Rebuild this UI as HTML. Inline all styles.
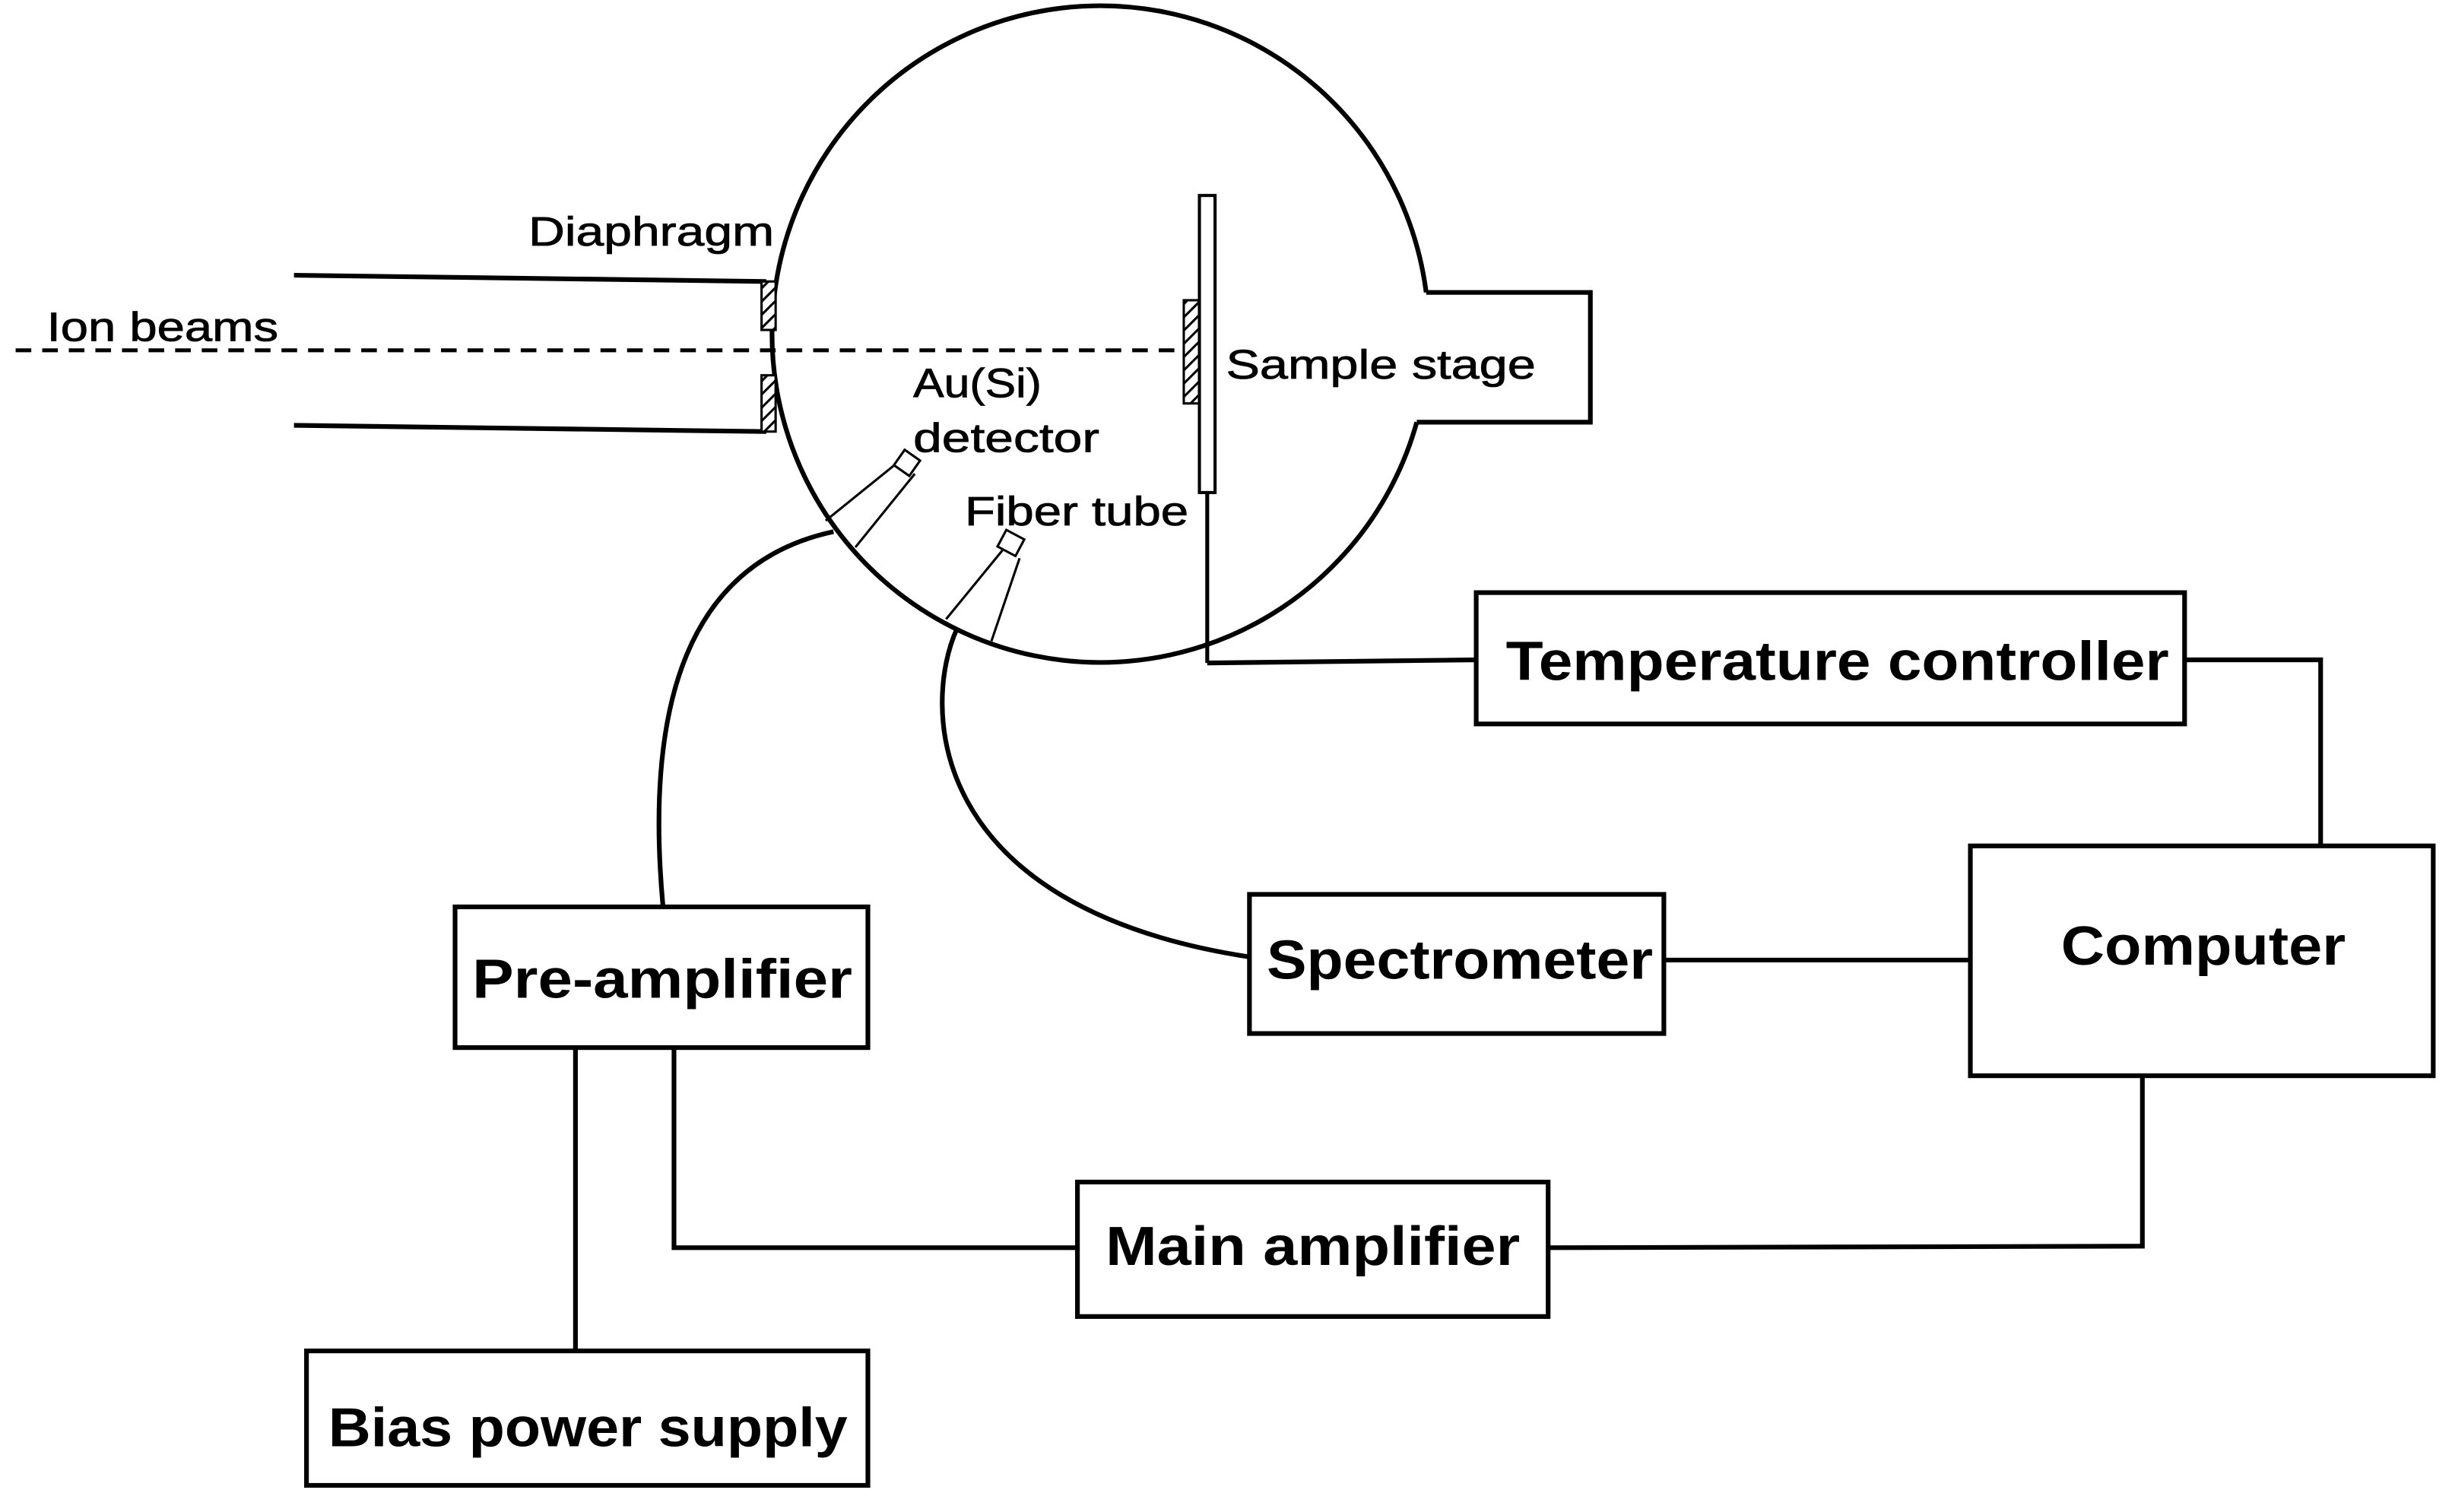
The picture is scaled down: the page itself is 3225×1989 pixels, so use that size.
<!DOCTYPE html>
<html><head><meta charset="utf-8"><style>html,body{margin:0;padding:0;background:#fff}svg{display:block}</style></head>
<body>
<svg width="3225" height="1989" viewBox="0 0 1568 967" xmlns="http://www.w3.org/2000/svg" font-family="Liberation Sans, sans-serif">
<defs>
<pattern id="h" width="6" height="6" patternUnits="userSpaceOnUse" patternTransform="rotate(45)">
<rect width="6" height="6" fill="#fff"/><line x1="0" y1="0" x2="0" y2="6" stroke="#000" stroke-width="3"/></pattern>
</defs>
<g fill="none" stroke="#000" stroke-width="3">
<path d="M 912,187 A 210 210 0 1 0 906,270"/>
<polyline points="912,187 1017,187 1017,270 906,270"/>
<line x1="188" y1="176" x2="490" y2="180"/>
<line x1="188" y1="272" x2="490" y2="276"/>
<line x1="10" y1="224" x2="760" y2="224" stroke-dasharray="10,7" stroke-width="2.5"/>
<line x1="772" y1="315" x2="772" y2="424" stroke-width="2.5"/>
<polyline points="772,424 944,422"/>
<polyline points="1397,422 1484,422 1484,541"/>
<line x1="1064" y1="614" x2="1260" y2="614"/>
<polyline points="431,670 431,798 689,798"/>
<polyline points="990,798 1370,797 1370,688"/>
<line x1="368" y1="670" x2="368" y2="864"/>
<path d="M 533,340 C 440,360 412,450 424,580"/>
<path d="M 612,402 C 590,450 590,580 799,612"/>
<rect x="944" y="379" width="453" height="84"/>
<rect x="1260" y="541" width="296" height="147"/>
<rect x="799" y="572" width="265" height="89"/>
<rect x="291" y="580" width="264" height="90"/>
<rect x="689" y="756" width="301" height="86"/>
<rect x="196" y="864" width="359" height="86"/>
</g>
<g stroke="#000" stroke-width="1.5">
<rect x="487" y="180" width="9" height="31" fill="url(#h)"/>
<rect x="487" y="240" width="9" height="36" fill="url(#h)"/>
<rect x="757" y="192" width="10" height="66" fill="url(#h)"/>
<rect x="767" y="125" width="10" height="190" fill="#fff" stroke-width="2"/>
</g>
<g fill="none" stroke="#000" stroke-width="1.5">
<line x1="528" y1="333" x2="575" y2="295"/>
<line x1="547" y1="350" x2="585" y2="303"/>
<rect x="574" y="290" width="12" height="12" transform="rotate(35 580 296)" fill="#fff"/>
<line x1="605" y1="396" x2="641" y2="352"/>
<line x1="634" y1="410" x2="652" y2="357"/>
<rect x="640" y="341" width="13" height="12" transform="rotate(28 646 347)" fill="#fff"/>
</g>
<g fill="#000" font-size="26" stroke="#000" stroke-width="0.4">
<text x="338" y="157" textLength="157" lengthAdjust="spacingAndGlyphs">Diaphragm</text>
<text x="30" y="218" textLength="148" lengthAdjust="spacingAndGlyphs">Ion beams</text>
<text x="784" y="242" textLength="198" lengthAdjust="spacingAndGlyphs">Sample  stage</text>
<text x="584" y="254" textLength="82" lengthAdjust="spacingAndGlyphs">Au(Si)</text>
<text x="584" y="289" textLength="119" lengthAdjust="spacingAndGlyphs">detector</text>
<text x="617" y="336" textLength="143" lengthAdjust="spacingAndGlyphs">Fiber tube</text>
</g>
<g fill="#000" font-size="35" font-weight="bold">
<text x="963" y="435" textLength="424" lengthAdjust="spacingAndGlyphs">Temperature controller</text>
<text x="1318" y="617" textLength="182" lengthAdjust="spacingAndGlyphs">Computer</text>
<text x="810" y="626" textLength="247" lengthAdjust="spacingAndGlyphs">Spectrometer</text>
<text x="302" y="638" textLength="243" lengthAdjust="spacingAndGlyphs">Pre-amplifier</text>
<text x="707" y="809" textLength="265" lengthAdjust="spacingAndGlyphs">Main amplifier</text>
<text x="210" y="925" textLength="332" lengthAdjust="spacingAndGlyphs">Bias power supply</text>
</g>
</svg>
</body></html>
